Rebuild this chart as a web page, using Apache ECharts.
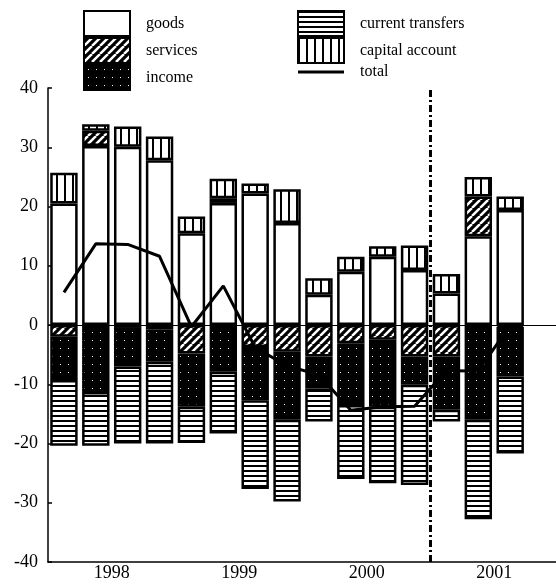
<!DOCTYPE html>
<html>
<head>
<meta charset="utf-8">
<script src="https://cdn.jsdelivr.net/npm/echarts@6.0.0/dist/echarts.min.js"></script>
<style>
  html, body { margin: 0; padding: 0; background: #fff; }
  #chart { width: 556px; height: 584px; }
</style>
</head>
<body>
<div id="chart"></div>
<script>
// quarters 1998Q1 .. 2001Q4 (last one has no data yet)
var quarters = ['1998Q1', '1998Q2', '1998Q3', '1998Q4', '1999Q1', '1999Q2', '1999Q3', '1999Q4',
  '2000Q1', '2000Q2', '2000Q3', '2000Q4', '2001Q1', '2001Q2', '2001Q3', '2001Q4'];
var years = ['1998', '1999', '2000', '2001'];

var goods = [20.5, 30.2, 30.1, 27.8, 15.5, 20.6, 22.2, 17.2, 5.1, 9.0, 11.5, 9.3, 5.3, 15.0, 19.4];
var services = [-2.0, 2.6, -0.5, -0.8, -4.8, 0.8, -3.7, -4.5, -5.3, -3.1, -2.5, -5.3, -5.3, 6.7, -0.3];
var income = [-7.3, -11.3, -6.5, -5.4, -9.0, -7.9, -9.0, -11.5, -5.4, -10.4, -11.3, -4.8, -9.0, -16.0, -8.4];
var transfers = [-11.1, -9.1, -13.0, -13.8, -6.1, -10.4, -15.0, -13.8, -5.6, -12.5, -12.9, -16.9, -2.0, -16.8, -13.0];
var capital = [5.2, 1.1, 3.4, 4.0, 2.8, 3.3, 1.7, 5.7, 2.8, 2.5, 1.8, 4.1, 3.3, 3.3, 2.3];
var total = [5.5, 13.7, 13.6, 11.6, -0.3, 6.6, -3.8, -6.9, -8.4, -14.4, -13.8, -13.7, -7.7, -7.8, 0.0];

// boundary 2000Q4 | 2001Q1, in quarter units from the start
var breakAt = 12;

var serif = 'Liberation Serif';

// small canvas tiles used as fill patterns
function makePattern(w, h, draw) {
  var c = document.createElement('canvas');
  c.width = w;
  c.height = h;
  var ctx = c.getContext('2d');
  draw(ctx, w, h);
  return { image: c, repeat: 'repeat' };
}

var hatch = makePattern(8, 8, function (ctx, w, h) {
  ctx.fillStyle = '#000';
  ctx.fillRect(0, 0, w, h);
  ctx.strokeStyle = '#fff';
  ctx.lineWidth = 2.5;
  [-8, 0, 8].forEach(function (k) {
    ctx.beginPath();
    ctx.moveTo(k, h);
    ctx.lineTo(k + w, 0);
    ctx.stroke();
  });
});

var dots = makePattern(8, 8, function (ctx, w, h) {
  ctx.fillStyle = '#000';
  ctx.fillRect(0, 0, w, h);
  ctx.fillStyle = '#fff';
  ctx.fillRect(4, 4, 1, 1);
});

var hLines = makePattern(4, 5, function (ctx, w, h) {
  ctx.fillStyle = '#000';
  ctx.fillRect(0, 0, w, h);
  ctx.fillStyle = '#fff';
  ctx.fillRect(0, 2, w, 3);
});

var vLines = makePattern(8, 4, function (ctx, w, h) {
  ctx.fillStyle = '#fff';
  ctx.fillRect(0, 0, w, h);
  ctx.fillStyle = '#000';
  ctx.fillRect(0, 0, 2, h);
});

function barSeries(name, data, fill) {
  return {
    name: name,
    type: 'bar',
    stack: 'bop',
    data: data,
    barWidth: '86%',
    itemStyle: { color: fill, borderColor: '#000', borderWidth: 2.5 }
  };
}

var legendText = { color: '#000', fontFamily: serif, fontSize: 16, padding: [0, 0, 0, 11] };

var myChart = echarts.init(document.getElementById('chart'));
myChart.setOption({
  animation: false,
  grid: { left: 48, right: -2, top: 88, bottom: 22, outerBoundsMode: 'none' },
  legend: [
    {
      orient: 'vertical', left: 83, top: 10, padding: 0,
      itemWidth: 46, itemHeight: 25, itemGap: 0,
      selectedMode: false, textStyle: legendText,
      data: [{ name: 'goods', icon: 'rect' }, { name: 'services', icon: 'rect' }, { name: 'income', icon: 'rect' }]
    },
    {
      orient: 'vertical', left: 297, top: 10, padding: 0,
      itemWidth: 46, itemHeight: 25, itemGap: 0,
      selectedMode: false, textStyle: legendText,
      data: [
        { name: 'current transfers', icon: 'rect' },
        { name: 'capital account', icon: 'rect' },
        // plain thick bar instead of the default line + circle
        { name: 'total', icon: 'path://M0,0H46V3H0Z' }
      ]
    }
  ],
  xAxis: [
    {
      type: 'category',
      data: quarters,
      position: 'bottom',
      axisLine: { onZero: false, lineStyle: { color: '#000', width: 1.5 } },
      axisTick: { inside: true, length: 4, interval: 0, lineStyle: { color: '#000', width: 1.5 } },
      axisLabel: { show: false },
      splitLine: { show: false }
    },
    {
      type: 'category',
      data: years,
      position: 'bottom',
      axisLine: { show: false },
      axisTick: { inside: true, length: 10, lineStyle: { color: '#000', width: 3 } },
      axisLabel: { color: '#000', fontFamily: serif, fontSize: 18, margin: 2 },
      splitLine: { show: false }
    },
    { type: 'value', min: 0, max: quarters.length, show: false }
  ],
  yAxis: {
    type: 'value',
    min: -40,
    max: 40,
    interval: 10,
    axisLine: { show: true, lineStyle: { color: '#000', width: 1.5 } },
    axisTick: { show: true, inside: true, length: 4, lineStyle: { color: '#000', width: 1.5 } },
    axisLabel: { color: '#000', fontFamily: serif, fontSize: 18, margin: 10 },
    splitLine: { show: false }
  },
  series: [
    // zero line and the 2000/2001 break
    {
      name: 'ref',
      type: 'line',
      xAxisIndex: 2,
      data: [],
      z: 1,
      markLine: {
        silent: true,
        symbol: 'none',
        label: { show: false },
        data: [
          { yAxis: 0, lineStyle: { color: '#000', width: 1, type: 'solid' } },
          { xAxis: breakAt, lineStyle: { color: '#000', width: 3, type: [7, 3, 2, 3] } }
        ]
      }
    },
    barSeries('goods', goods, '#fff'),
    barSeries('services', services, hatch),
    barSeries('income', income, dots),
    barSeries('current transfers', transfers, hLines),
    barSeries('capital account', capital, vLines),
    {
      name: 'total',
      type: 'line',
      data: total,
      symbol: 'none',
      z: 5,
      itemStyle: { color: '#000' },
      lineStyle: { color: '#000', width: 3 }
    }
  ]
});
</script>
</body>
</html>
